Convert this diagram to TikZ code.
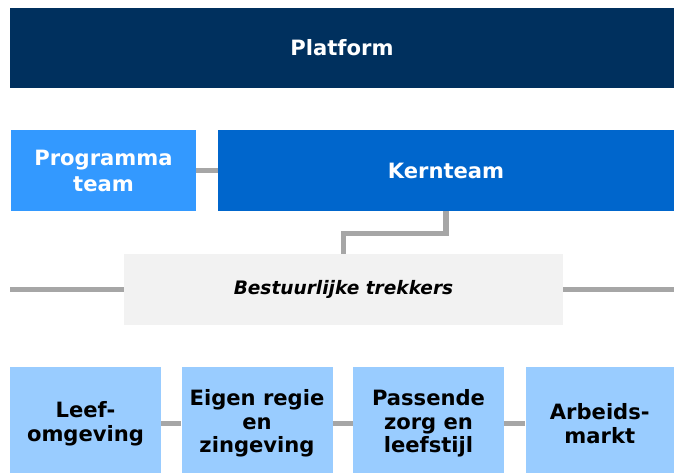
\documentclass[tikz,border=0pt]{standalone}
\usepackage{fontspec}
\setmainfont{DejaVu Sans}
\usepackage{tikz}
\definecolor{platformblue}{HTML}{00305E}
\definecolor{progblue}{HTML}{3399FF}
\definecolor{kernblue}{HTML}{0066CC}
\definecolor{themeblue}{HTML}{99CCFF}
\definecolor{trekgray}{HTML}{F2F2F2}
\definecolor{linkgray}{HTML}{A6A6A6}

\begin{document}
\begin{tikzpicture}[x=0.025cm, y=-0.025cm,
  box/.style={rectangle, inner sep=0pt, align=center,
    font=\bfseries\fontsize{15}{18.5}\selectfont},
  size/.style 2 args={minimum width=#1*0.025cm, minimum height=#2*0.025cm},
  theme/.style={box, fill=themeblue, text=black,
    font=\bfseries\fontsize{15}{16.8}\selectfont},
  link/.style={draw=linkgray, line width=3.8pt}]
\useasboundingbox (0,0) rectangle (674,472);
\node[box, size={664}{80}, fill=platformblue, text=white] (P) at (342,48) {Platform};
\node[box, size={185}{81}, fill=progblue, text=white] (PT) at (103.5,170.5) {Programma\\team};
\node[box, size={456}{81}, fill=kernblue, text=white] (K) at (446,170.5) {Kernteam};
\node[box, size={439}{71}, fill=trekgray, text=black,
  font=\bfseries\itshape\fontsize{13.2}{16}\selectfont] (BT) at (343.5,289.5) {Bestuurlijke trekkers};
\coordinate (BL) at (10,289.5);
\coordinate (BR) at (674,289.5);
% boxes run on past the bottom edge
\node[theme, size={151}{113}] (T1) at (85.5,423.5) {Leef-\\omgeving};
\node[theme, size={151}{113}] (T2) at (257,423.5) {Eigen regie\\en\\zingeving};
\node[theme, size={151}{113}] (T3) at (428.5,423.5) {Passende\\zorg en\\leefstijl};
\node[theme, size={148.5}{113}] (T4) at (599.75,423.5) {Arbeids-\\markt};
\draw [link] (PT) -- (K);
\draw [link] (K.south) -- ++(0,22) -| (BT.north);
\draw [link] (BL) -- (BT);
\draw [link] (BT) -- (BR);
\draw [link] (T1) -- (T2);
\draw [link] (T2) -- (T3);
\draw [link] (T3) -- (T4);
\end{tikzpicture}
\end{document}
